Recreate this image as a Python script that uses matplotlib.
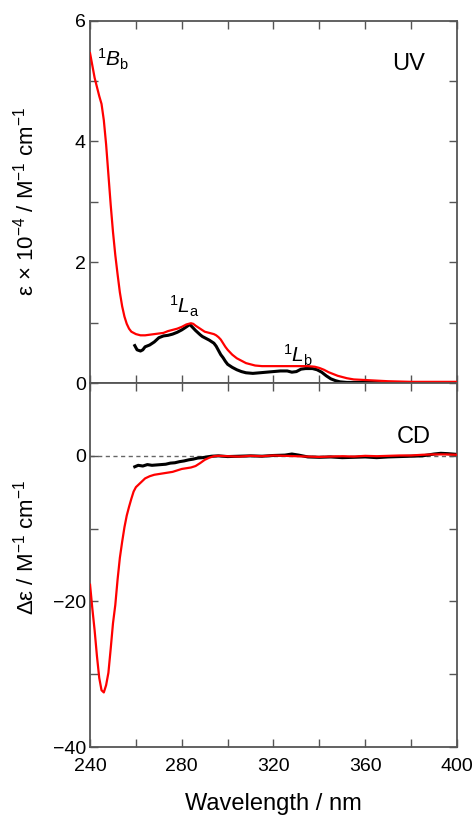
import numpy as np
import matplotlib
matplotlib.use("Agg")
import matplotlib.pyplot as plt
from matplotlib.ticker import MultipleLocator

plt.rcParams['font.family'] = ['Liberation Sans', 'DejaVu Sans']
plt.rcParams['mathtext.fontset'] = 'custom'
plt.rcParams['mathtext.rm'] = 'Liberation Sans'
plt.rcParams['mathtext.it'] = 'Liberation Sans:italic'
plt.rcParams['font.size'] = 14

# UV spectra (wavelength nm, epsilon x 1e-4)
uv_red_wl = [240, 242, 244, 245, 246, 247, 248, 249, 250, 251, 252, 253, 254, 255, 256, 257, 258,
             260, 262, 264, 266, 268, 270, 272, 274, 276, 278, 280, 282, 284, 285, 286, 288, 290,
             292, 294, 295, 296, 297, 298, 299, 300, 302, 304, 306, 308, 310, 312, 315, 320, 325,
             330, 335, 338, 340, 342, 344, 346, 348, 350, 352, 355, 360, 365, 370, 380, 390, 400]
uv_red = [5.46, 5.05, 4.75, 4.62, 4.35, 3.95, 3.45, 2.95, 2.5, 2.12, 1.8, 1.5, 1.27, 1.1, 0.98, 0.9, 0.85,
          0.81, 0.79, 0.79, 0.80, 0.81, 0.82, 0.83, 0.86, 0.88, 0.9, 0.93, 0.97, 0.99, 0.98, 0.95, 0.9, 0.85,
          0.83, 0.81, 0.79, 0.76, 0.72, 0.66, 0.6, 0.55, 0.47, 0.41, 0.37, 0.33, 0.31, 0.29, 0.28, 0.28, 0.28,
          0.28, 0.28, 0.27, 0.25, 0.22, 0.18, 0.15, 0.12, 0.1, 0.08, 0.06, 0.05, 0.04, 0.03, 0.02, 0.02, 0.02]

uv_blk_wl = [259.5, 260.5, 262, 263, 264, 266, 268, 270, 272, 274, 276, 278, 280, 282, 283.5, 284.5,
             286, 288, 289, 290, 292, 294, 295, 296, 297, 298, 299, 300, 302, 304, 306, 308, 311, 314,
             317, 320, 323, 326, 328, 330, 332, 334, 337, 339, 341, 343, 345, 347, 349, 352, 360, 380, 400]
uv_blk = [0.62, 0.55, 0.53, 0.55, 0.6, 0.63, 0.68, 0.75, 0.78, 0.79, 0.81, 0.84, 0.88, 0.93, 0.97, 0.93,
          0.87, 0.8, 0.77, 0.75, 0.71, 0.66, 0.61, 0.54, 0.47, 0.42, 0.36, 0.31, 0.26, 0.22, 0.19, 0.17, 0.16, 0.17,
          0.18, 0.19, 0.2, 0.2, 0.18, 0.19, 0.23, 0.24, 0.24, 0.22, 0.18, 0.12, 0.07, 0.04, 0.02, 0.01, 0.01, 0.0, 0.0]

# CD spectra (wavelength nm, delta epsilon)
cd_red_wl = [240, 241, 242, 243, 244, 245, 246, 247, 248, 249, 250, 251, 252, 253, 254, 255, 256, 257,
             258, 259, 260, 262, 264, 266, 268, 270, 272, 274, 276, 278, 280, 282, 284, 286, 288, 290,
             292, 294, 296, 300, 305, 310, 315, 320, 325, 330, 335, 340, 345, 350, 355, 360, 365, 370,
             375, 380, 385, 390, 395, 400]
cd_red = [-17.7, -21, -24, -27.5, -30.5, -32.2, -32.5, -31.5, -29.8, -26.5, -23, -20.5, -17, -14, -11.8,
          -9.8, -8.2, -7.0, -5.9, -4.9, -4.3, -3.7, -3.1, -2.8, -2.6, -2.5, -2.4, -2.3, -2.2, -2.0, -1.8,
          -1.7, -1.6, -1.4, -1.0, -0.55, -0.25, -0.05, 0.0, -0.05, -0.1, 0.0, -0.05, 0.05, 0.0, -0.05,
          -0.1, -0.15, -0.1, -0.05, -0.1, 0.0, -0.05, 0.0, 0.05, 0.05, 0.15, 0.2, 0.2, 0.15]

cd_blk_wl = [259.5, 261, 263, 265, 267, 269, 271, 273, 275, 277, 279, 281, 283, 285, 287, 289, 291, 293,
             296, 300, 305, 310, 315, 320, 325, 328, 331, 335, 340, 345, 350, 355, 360, 365, 370, 375,
             380, 385, 390, 393, 396, 400]
cd_blk = [-1.5, -1.3, -1.4, -1.2, -1.3, -1.25, -1.2, -1.15, -1.0, -0.95, -0.8, -0.7, -0.55, -0.45, -0.3,
          -0.25, -0.15, -0.05, 0.0, -0.1, -0.05, 0.0, -0.05, 0.05, 0.1, 0.25, 0.1, -0.15, -0.2, -0.15, -0.25,
          -0.2, -0.15, -0.25, -0.15, -0.1, -0.05, 0.0, 0.25, 0.35, 0.3, 0.2]

fig = plt.figure(figsize=(4.74, 8.15), dpi=100)
ax1 = fig.add_axes([0.19, 0.530, 0.774, 0.4448])
ax2 = fig.add_axes([0.19, 0.0834, 0.774, 0.4466])

spine_col = '#555555'
for ax in (ax1, ax2):
    ax.set_xlim(240, 400)
    ax.xaxis.set_major_locator(MultipleLocator(40))
    ax.xaxis.set_minor_locator(MultipleLocator(20))
    ax.tick_params(which='both', direction='in', top=True, right=True, length=6,
                   width=1, color=spine_col, pad=3)
    ax.tick_params(axis='x', pad=8)
    for s in ax.spines.values():
        s.set_color(spine_col)
        s.set_linewidth(1.3)

ax1.plot(uv_red_wl, uv_red, color='red', lw=1.6, zorder=3)
ax1.plot(uv_blk_wl, uv_blk, color='black', lw=2.2, zorder=2)
ax1.set_ylim(0, 6)
ax1.yaxis.set_major_locator(MultipleLocator(2))
ax1.yaxis.set_minor_locator(MultipleLocator(1))
ax1.tick_params(labelbottom=False)
ax1.set_ylabel('ε × 10$^{-4}$ / M$^{-1}$ cm$^{-1}$', fontsize=16)
ax1.yaxis.set_label_coords(-0.14, 0.5)
ax1.text(243, 5.35, '$^{1}B_{\\mathrm{b}}$', ha='left', va='center', fontsize=15)
ax1.text(379, 5.28, 'UV', ha='center', va='center', fontsize=17)
ax1.text(281, 1.27, '$^{1}L_{\\mathrm{a}}$', ha='center', va='center', fontsize=15)
ax1.text(330.7, 0.45, '$^{1}L_{\\mathrm{b}}$', ha='center', va='center', fontsize=15)

ax2.axhline(0, color='#666666', lw=1.0, ls=(0, (3, 2.5)), zorder=1)
ax2.plot(cd_red_wl, cd_red, color='red', lw=1.6, zorder=3)
ax2.plot(cd_blk_wl, cd_blk, color='black', lw=2.2, zorder=2)
ax2.set_ylim(-40, 10)
ax2.yaxis.set_major_locator(MultipleLocator(20))
ax2.yaxis.set_minor_locator(MultipleLocator(10))
ax2.set_ylabel('Δε / M$^{-1}$ cm$^{-1}$', fontsize=16)
ax2.yaxis.set_label_coords(-0.14, 0.55)
ax2.set_xlabel('Wavelength / nm', fontsize=17)
ax2.xaxis.set_label_coords(0.5, -0.125)
ax2.text(381, 2.6, 'CD', ha='center', va='center', fontsize=17)

fig.savefig('out.png', dpi=100)
